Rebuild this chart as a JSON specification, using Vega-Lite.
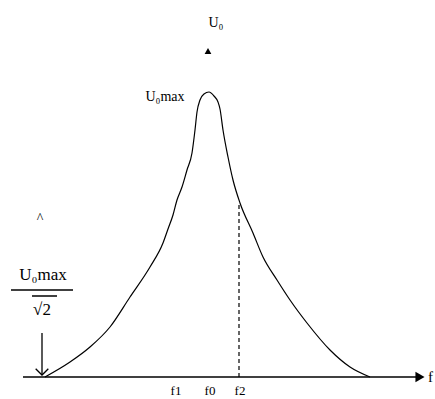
{
  "$schema": "https://vega.github.io/schema/vega-lite/v6.json",
  "width": 435,
  "height": 399,
  "autosize": {"type": "none"},
  "padding": 0,
  "background": "white",
  "config": {"view": {"stroke": null}},
  "layer": [
    {
      "data": {"values": [
        {"f": 45, "u": 0}, {"f": 70, "u": 15}, {"f": 90, "u": 30}, {"f": 110, "u": 50},
        {"f": 130, "u": 80}, {"f": 150, "u": 110}, {"f": 163, "u": 134}, {"f": 168, "u": 148},
        {"f": 173, "u": 162}, {"f": 177, "u": 177}, {"f": 182, "u": 190}, {"f": 187, "u": 207},
        {"f": 192, "u": 224}, {"f": 195, "u": 247}, {"f": 197, "u": 265}, {"f": 200, "u": 277},
        {"f": 204, "u": 283}, {"f": 209, "u": 285}, {"f": 214, "u": 281}, {"f": 218, "u": 275},
        {"f": 220, "u": 268}, {"f": 223, "u": 247}, {"f": 228, "u": 220}, {"f": 233, "u": 197},
        {"f": 240, "u": 174}, {"f": 253, "u": 144}, {"f": 263, "u": 120}, {"f": 277, "u": 97},
        {"f": 290, "u": 77}, {"f": 307, "u": 54}, {"f": 330, "u": 27}, {"f": 350, "u": 10},
        {"f": 370, "u": 0}
      ]},
      "mark": {"type": "line", "color": "black", "strokeWidth": 1.2, "interpolate": "monotone"},
      "encoding": {
        "x": {"field": "f", "type": "quantitative", "scale": {"domain": [0, 435], "nice": false, "zero": false}, "axis": null},
        "y": {"field": "u", "type": "quantitative", "scale": {"domain": [-22, 377], "nice": false, "zero": false}, "axis": null}
      }
    },
    {
      "data": {"values": [
        {"f": 23, "f2": 416, "u": 0, "w": "axis"},
        {"f": 11, "f2": 73, "u": 87, "w": "bar"},
        {"f": 32, "f2": 57, "u": 81, "w": "sqrt"}
      ]},
      "mark": {"type": "rule", "color": "black", "strokeWidth": 1.5},
      "encoding": {
        "x": {"field": "f", "type": "quantitative", "scale": {"domain": [0, 435], "nice": false, "zero": false}},
        "x2": {"field": "f2"},
        "y": {"field": "u", "type": "quantitative", "scale": {"domain": [-22, 377], "nice": false, "zero": false}}
      }
    },
    {
      "data": {"values": [{"f": 42, "u": 2, "u2": 44}]},
      "mark": {"type": "rule", "color": "black", "strokeWidth": 1.3},
      "encoding": {
        "x": {"field": "f", "type": "quantitative", "scale": {"domain": [0, 435], "nice": false, "zero": false}},
        "y": {"field": "u", "type": "quantitative", "scale": {"domain": [-22, 377], "nice": false, "zero": false}},
        "y2": {"field": "u2"}
      }
    },
    {
      "data": {"values": [{"f": 239, "u": 0, "u2": 174}]},
      "mark": {"type": "rule", "color": "black", "strokeWidth": 1.2, "strokeDash": [4, 3]},
      "encoding": {
        "x": {"field": "f", "type": "quantitative", "scale": {"domain": [0, 435], "nice": false, "zero": false}},
        "y": {"field": "u", "type": "quantitative", "scale": {"domain": [-22, 377], "nice": false, "zero": false}},
        "y2": {"field": "u2"}
      }
    },
    {
      "data": {"values": [{"f": 420, "u": 0}]},
      "mark": {"type": "point", "shape": "triangle-right", "filled": true, "color": "black", "size": 110, "opacity": 1},
      "encoding": {
        "x": {"field": "f", "type": "quantitative", "scale": {"domain": [0, 435], "nice": false, "zero": false}},
        "y": {"field": "u", "type": "quantitative", "scale": {"domain": [-22, 377], "nice": false, "zero": false}}
      }
    },
    {
      "data": {"values": [{"f": 208, "u": 326}]},
      "mark": {"type": "point", "shape": "triangle-up", "filled": true, "color": "black", "size": 45, "opacity": 1},
      "encoding": {
        "x": {"field": "f", "type": "quantitative", "scale": {"domain": [0, 435], "nice": false, "zero": false}},
        "y": {"field": "u", "type": "quantitative", "scale": {"domain": [-22, 377], "nice": false, "zero": false}}
      }
    },
    {
      "data": {"values": [{"f": 42, "u": 2}]},
      "mark": {"type": "point", "shape": "M-1,-1L0,0L1,-1", "filled": false, "color": "black", "strokeWidth": 1.3, "size": 160, "opacity": 1},
      "encoding": {
        "x": {"field": "f", "type": "quantitative", "scale": {"domain": [0, 435], "nice": false, "zero": false}},
        "y": {"field": "u", "type": "quantitative", "scale": {"domain": [-22, 377], "nice": false, "zero": false}}
      }
    },
    {
      "data": {"values": [
        {"f": 43, "u": 102, "t": "U₀max"},
        {"f": 42, "u": 67, "t": "√2"}
      ]},
      "mark": {"type": "text", "font": "Liberation Serif", "fontSize": 17, "color": "black", "baseline": "middle", "align": "center"},
      "encoding": {
        "x": {"field": "f", "type": "quantitative", "scale": {"domain": [0, 435], "nice": false, "zero": false}},
        "y": {"field": "u", "type": "quantitative", "scale": {"domain": [-22, 377], "nice": false, "zero": false}},
        "text": {"field": "t"}
      }
    },
    {
      "data": {"values": [
        {"f": 216, "u": 354, "t": "U₀"},
        {"f": 165, "u": 280, "t": "U₀max"},
        {"f": 40, "u": 158, "t": "^"}
      ]},
      "mark": {"type": "text", "font": "Liberation Serif", "fontSize": 14, "color": "black", "baseline": "middle", "align": "center"},
      "encoding": {
        "x": {"field": "f", "type": "quantitative", "scale": {"domain": [0, 435], "nice": false, "zero": false}},
        "y": {"field": "u", "type": "quantitative", "scale": {"domain": [-22, 377], "nice": false, "zero": false}},
        "text": {"field": "t"}
      }
    },
    {
      "data": {"values": [
        {"f": 176, "u": -8, "t": "f1"},
        {"f": 210, "u": -8, "t": "f0"},
        {"f": 240, "u": -8, "t": "f2"}
      ]},
      "mark": {"type": "text", "font": "Liberation Serif", "fontSize": 13, "color": "black", "baseline": "top", "align": "center"},
      "encoding": {
        "x": {"field": "f", "type": "quantitative", "scale": {"domain": [0, 435], "nice": false, "zero": false}},
        "y": {"field": "u", "type": "quantitative", "scale": {"domain": [-22, 377], "nice": false, "zero": false}},
        "text": {"field": "t"}
      }
    },
    {
      "data": {"values": [{"f": 428, "u": 0, "t": "f"}]},
      "mark": {"type": "text", "font": "Liberation Serif", "fontSize": 15, "color": "black", "baseline": "middle", "align": "left"},
      "encoding": {
        "x": {"field": "f", "type": "quantitative", "scale": {"domain": [0, 435], "nice": false, "zero": false}},
        "y": {"field": "u", "type": "quantitative", "scale": {"domain": [-22, 377], "nice": false, "zero": false}},
        "text": {"field": "t"}
      }
    }
  ]
}
